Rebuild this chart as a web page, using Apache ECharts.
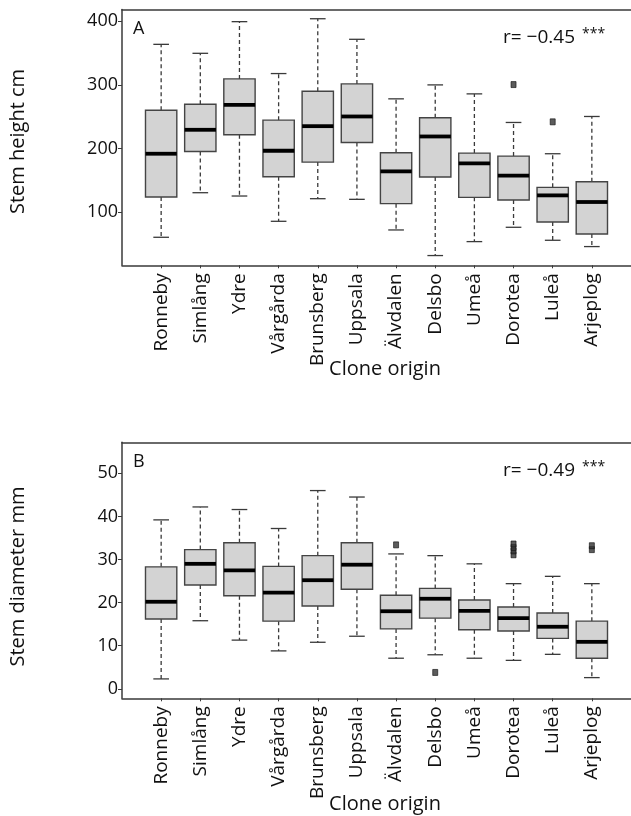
<!DOCTYPE html>
<html>
<head>
<meta charset="utf-8">
<script src="https://cdn.jsdelivr.net/npm/echarts@6/dist/echarts.min.js"></script>
<style>
html,body{margin:0;padding:0;background:#fff;}
#chart{width:631px;height:816px;}
</style>
</head>
<body>
<div id="chart"></div>
<script>
// ---- Data ----
const categories = ['Ronneby','Simlång','Ydre','Vårgårda','Brunsberg','Uppsala','Älvdalen','Delsbo','Umeå','Dorotea','Luleå','Arjeplog'];

// [min, Q1, median, Q3, max]
const heightStats = [
  [60.8,124,192,260.4,363.8],
  [130.8,195.6,229.6,269.8,349.7],
  [125.6,221.7,268.8,309.5,399.4],
  [85.9,155.9,196.7,244.7,317.9],
  [121.4,178.9,235.3,290.2,404],
  [120.4,209.7,250.5,301.7,371.7],
  [72.3,113.6,164.3,193.5,278.2],
  [32.1,155.4,219.1,248.4,300.1],
  [54,123.5,176.8,193,286],
  [76.5,119.3,157.5,188.3,241.1],
  [56.1,84.8,126.6,139.2,192],
  [46.2,66,116.2,148.1,250.5]
];
// [category name, value]
const heightOutliers = [
  ['Dorotea', 300.6],
  ['Luleå', 242.1]
];

const diameterStats = [
  [2.3,16.2,20.2,28.3,39.2],
  [15.8,24.1,29,32.3,42.2],
  [11.3,21.6,27.5,33.9,41.6],
  [8.8,15.7,22.3,28.4,37.2],
  [10.8,19.2,25.2,30.9,46],
  [12.2,23.1,28.8,33.9,44.5],
  [7.1,13.9,18,21.7,31.3],
  [7.9,16.4,20.9,23.3,30.9],
  [7.1,13.7,18.1,20.6,29],
  [6.6,13.4,16.4,19,24.4],
  [8,11.7,14.4,17.6,26.1],
  [2.6,7.1,10.9,15.7,24.4]
];
const diameterOutliers = [
  ['Älvdalen', 33.4],
  ['Delsbo', 3.8],
  ['Dorotea', 31.1], ['Dorotea', 32.0], ['Dorotea', 32.8], ['Dorotea', 33.6],
  ['Arjeplog', 32.3], ['Arjeplog', 33.2]
];

const heightTicks = [100, 200, 300, 400];
const diameterTicks = [0, 10, 20, 30, 40, 50];

const panelA = {label: 'A', corr: 'r= −0.45', sig: '***', yName: 'Stem height cm'};
const panelB = {label: 'B', corr: 'r= −0.49', sig: '***', yName: 'Stem diameter mm'};
const xName = 'Clone origin';

// ---- Build ----
const axisCats = [''].concat(categories, ['']);
function statRows(stats) {
  return stats.map((s, i) => [i + 1].concat(s));
}
function outlierRows(out) {
  return out.map(o => [categories.indexOf(o[0]) + 1, o[1]]);
}

const FONT = 'Open Sans';
const LINE = '#3a3a3a';

function renderBox(params, api) {
  const x = api.value(0);
  const pMin = api.coord([x, api.value(1)]);
  const pQ1 = api.coord([x, api.value(2)]);
  const pMed = api.coord([x, api.value(3)]);
  const pQ3 = api.coord([x, api.value(4)]);
  const pMax = api.coord([x, api.value(5)]);
  const band = api.size([1, 0])[0];
  const bw = band * 0.8;
  const cw = band * 0.4;
  const cx = pMed[0];
  const dashStyle = {stroke: LINE, lineWidth: 1.3, lineDash: [4, 3], fill: null};
  const solid = {stroke: LINE, lineWidth: 1.3};
  return {
    type: 'group',
    children: [
      {type: 'line', shape: {x1: cx, y1: pQ3[1], x2: cx, y2: pMax[1]}, style: dashStyle},
      {type: 'line', shape: {x1: cx, y1: pQ1[1], x2: cx, y2: pMin[1]}, style: dashStyle},
      {type: 'line', shape: {x1: cx - cw / 2, y1: pMax[1], x2: cx + cw / 2, y2: pMax[1]}, style: solid},
      {type: 'line', shape: {x1: cx - cw / 2, y1: pMin[1], x2: cx + cw / 2, y2: pMin[1]}, style: solid},
      {type: 'rect', shape: {x: cx - bw / 2, y: pQ3[1], width: bw, height: pQ1[1] - pQ3[1]},
        style: {fill: '#d3d3d3', stroke: '#444', lineWidth: 1.4}},
      {type: 'line', shape: {x1: cx - bw / 2, y1: pMed[1], x2: cx + bw / 2, y2: pMed[1]},
        style: {stroke: '#000', lineWidth: 3.8}}
    ]
  };
}

function xAxisCfg(gridIndex) {
  return {
    type: 'category', gridIndex: gridIndex, data: axisCats, boundaryGap: false, position: 'bottom',
    axisLine: {show: true, onZero: false, lineStyle: {color: LINE, width: 1.5}},
    axisTick: {show: true, length: 3, interval: (i, v) => v !== '', lineStyle: {color: LINE}},
    axisLabel: {rotate: 90, interval: (i, v) => v !== '', margin: 8, color: '#111',
      fontFamily: FONT, fontSize: 19},
    splitLine: {show: false}
  };
}
function xTopCfg(gridIndex) {
  return {
    type: 'category', gridIndex: gridIndex, data: axisCats, boundaryGap: false, position: 'top',
    axisLine: {show: true, onZero: false, lineStyle: {color: LINE, width: 1.5}},
    axisTick: {show: false}, axisLabel: {show: false}, splitLine: {show: false}
  };
}
function yAxisCfg(gridIndex, min, max, ticks) {
  return {
    type: 'value', gridIndex: gridIndex, min: min, max: max,
    axisLine: {show: true, onZero: false, lineStyle: {color: LINE, width: 1.5}},
    axisTick: {show: true, length: 4, customValues: ticks, lineStyle: {color: LINE}},
    axisLabel: {customValues: ticks, margin: 4, color: '#111', fontFamily: FONT, fontSize: 18},
    splitLine: {show: false}
  };
}

function txt(text, x, y, size, opts) {
  return Object.assign({
    type: 'text', x: x, y: y,
    style: Object.assign({text: text, font: size + 'px "' + FONT + '"', fill: '#111',
      textAlign: 'left', textVerticalAlign: 'middle'}, (opts && opts.style) || {})
  }, (opts && opts.el) || {});
}

const option = {
  animation: false,
  backgroundColor: '#fff',
  grid: [
    {left: 122, right: -6.6, top: 9.5, height: 255.8, show: false},
    {left: 122, right: -6.6, top: 442.3, height: 256, show: false}
  ],
  xAxis: [xAxisCfg(0), xAxisCfg(1), xTopCfg(0), xTopCfg(1)],
  yAxis: [yAxisCfg(0, 16.8, 418.5, heightTicks), yAxisCfg(1, -2.2, 57.2, diameterTicks)],
  series: [
    {type: 'custom', xAxisIndex: 0, yAxisIndex: 0, renderItem: renderBox,
      encode: {x: 0, y: [1, 2, 3, 4, 5]}, data: statRows(heightStats)},
    {type: 'scatter', xAxisIndex: 0, yAxisIndex: 0, symbol: 'rect', symbolSize: [5, 6],
      itemStyle: {color: '#333', borderColor: '#111', borderWidth: 0.8}, data: outlierRows(heightOutliers)},
    {type: 'custom', xAxisIndex: 1, yAxisIndex: 1, renderItem: renderBox,
      encode: {x: 0, y: [1, 2, 3, 4, 5]}, data: statRows(diameterStats)},
    {type: 'scatter', xAxisIndex: 1, yAxisIndex: 1, symbol: 'rect', symbolSize: [5, 6],
      itemStyle: {color: '#333', borderColor: '#111', borderWidth: 0.8}, data: outlierRows(diameterOutliers)}
  ],
  graphic: [
    txt(panelA.label, 133, 29, 18),
    txt(panelA.corr, 503, 38, 19),
    txt(panelA.sig, 582, 34, 14),
    txt(panelA.yName, 18, 141.5, 20, {style: {textAlign: 'center'}, el: {rotation: Math.PI / 2}}),
    txt(xName, 385, 369, 20, {style: {textAlign: 'center'}}),
    txt(panelB.label, 133, 462, 18),
    txt(panelB.corr, 503, 471, 19),
    txt(panelB.sig, 582, 467, 14),
    txt(panelB.yName, 18, 576.5, 20, {style: {textAlign: 'center'}, el: {rotation: Math.PI / 2}}),
    txt(xName, 385, 804, 20, {style: {textAlign: 'center'}})
  ]
};

const chart = echarts.init(document.getElementById('chart'), null, {renderer: 'canvas'});
chart.setOption(option);
</script>
</body>
</html>
